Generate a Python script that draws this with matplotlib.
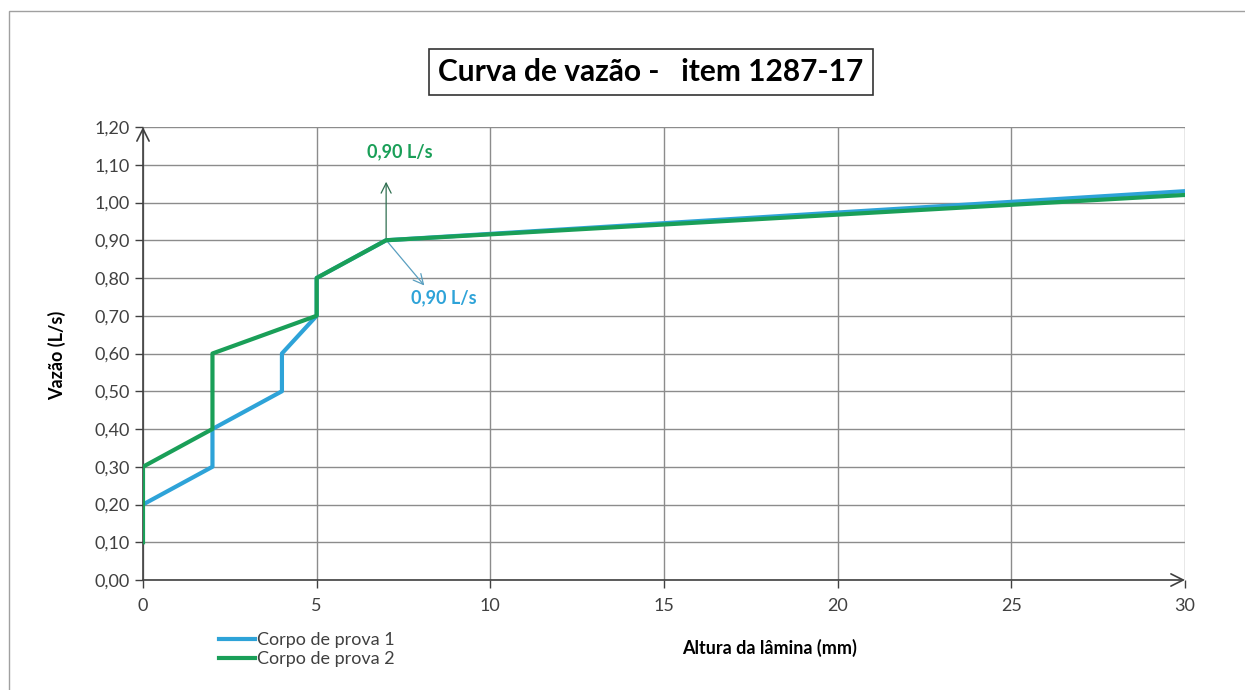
import matplotlib.pyplot as plt
from matplotlib.patches import Rectangle
from matplotlib.ticker import FuncFormatter

plt.rcParams['font.family'] = ['Lato', 'DejaVu Sans']

# data
x_cp1 = [0, 2, 2, 4, 4, 5, 5, 7, 30]
y_cp1 = [0.20, 0.30, 0.40, 0.50, 0.60, 0.70, 0.80, 0.90, 1.03]
x_cp2 = [0, 0, 2, 2, 5, 5, 7, 30]
y_cp2 = [0.10, 0.30, 0.40, 0.60, 0.70, 0.80, 0.90, 1.02]
labels = ["Corpo de prova 1", "Corpo de prova 2"]
x_ticks = [0, 5, 10, 15, 20, 25, 30]
y_ticks = [i / 10 for i in range(13)]

blue = "#2ea3d8"
green = "#1a9f58"
txt = "#404040"

fig = plt.figure(figsize=(12.45, 6.9), dpi=100)
ax = fig.add_axes([143 / 1245, 1 - 580 / 690, (1185 - 143) / 1245, (580 - 127) / 690])

# outer frame of the chart area
fig.add_artist(Rectangle((9 / 1245, -0.05), 1.2, 1 - 11 / 690 + 0.05, transform=fig.transFigure,
                         fill=False, edgecolor="#a0a0a0", linewidth=1))

ax.plot(x_cp1, y_cp1, color=blue, linewidth=3, label=labels[0], zorder=3)
ax.plot(x_cp2, y_cp2, color=green, linewidth=3, label=labels[1], zorder=4)

ax.set_xlim(0, 30)
ax.set_ylim(0, 1.2)
ax.set_xticks(x_ticks)
ax.set_yticks(y_ticks)
ax.yaxis.set_major_formatter(FuncFormatter(lambda v, p: f"{v:.2f}".replace(".", ",")))
ax.grid(True, color="#8c8c8c", linewidth=1)
ax.set_axisbelow(True)
for s in ax.spines.values():
    s.set_visible(False)
ax.tick_params(axis="both", colors="#404040", labelcolor=txt, labelsize=13, length=6, width=1)
ax.tick_params(axis="x", pad=7)

# axes with open arrowheads
ax.annotate("", xy=(0, 1.2), xytext=(0, 0), xycoords="data",
            arrowprops=dict(arrowstyle="->", color="#404040", lw=1.2, mutation_scale=22,
                            shrinkA=0, shrinkB=0), annotation_clip=False)
ax.annotate("", xy=(30, 0), xytext=(0, 0), xycoords="data",
            arrowprops=dict(arrowstyle="->", color="#404040", lw=1.2, mutation_scale=22,
                            shrinkA=0, shrinkB=0), annotation_clip=False)

# callouts
ax.annotate("", xy=(7, 1.055), xytext=(7, 0.905),
            arrowprops=dict(arrowstyle="->", color="#2f6f50", lw=0.9, mutation_scale=18,
                            shrinkA=0, shrinkB=0))
ax.text(7.4, 1.134, "0,90 L/s", color=green, fontsize=13, fontweight="bold", ha="center", va="center")
ax.annotate("", xy=(8.1, 0.78), xytext=(7.05, 0.895),
            arrowprops=dict(arrowstyle="->", color="#5a9fc0", lw=0.9, mutation_scale=18,
                            shrinkA=0, shrinkB=0))
ax.text(8.65, 0.747, "0,90 L/s", color=blue, fontsize=13, fontweight="bold", ha="center", va="center")

# title in a box
fig.text(651 / 1245, 1 - 72 / 690, "Curva de vazão -   item 1287-17", fontsize=21.5, fontweight="bold",
         color="black", ha="center", va="center",
         bbox=dict(boxstyle="square,pad=0.3", facecolor="white", edgecolor="#333333", linewidth=1.2))

fig.text(770 / 1245, 1 - 648 / 690, "Altura da lâmina (mm)", fontsize=13, fontweight="bold",
         color="black", ha="center", va="center")
fig.text(57 / 1245, 1 - 355 / 690, "Vazão (L/s)", fontsize=13, fontweight="bold",
         color="black", ha="center", va="center", rotation=90)

fig.legend(loc="upper left", bbox_to_anchor=(212 / 1245, 1 - 625 / 690), frameon=False,
           fontsize=13, handlelength=2.0, handletextpad=0.1, labelspacing=0.15,
           borderaxespad=0, labelcolor=txt)

fig.savefig("out.png", dpi=100)
